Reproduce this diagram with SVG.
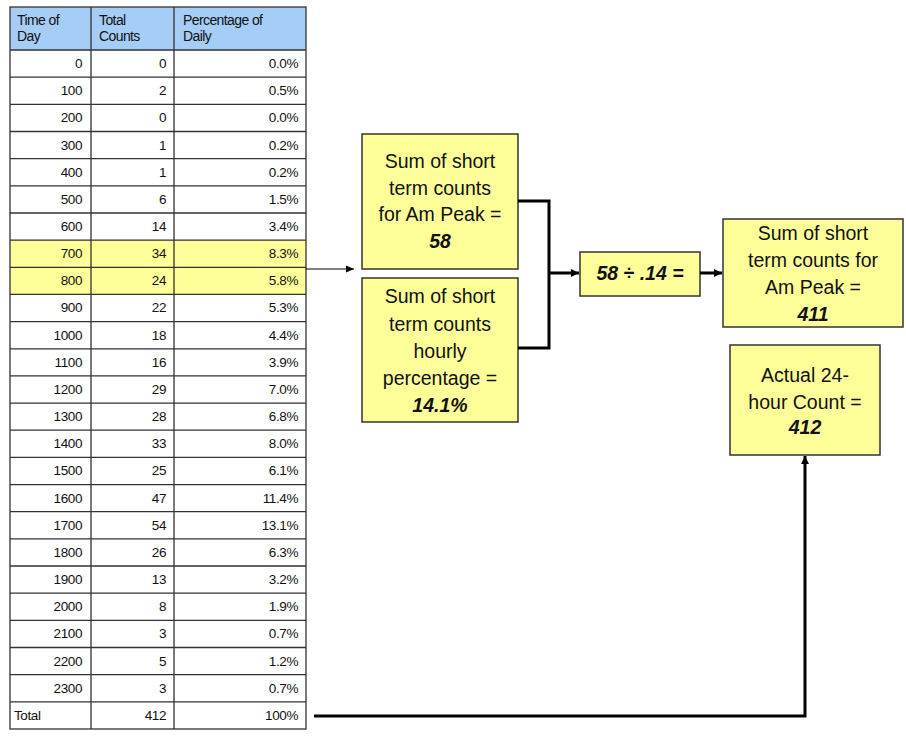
<svg xmlns="http://www.w3.org/2000/svg" width="906" height="740" viewBox="0 0 906 740">
<defs>
<style>
.tt{font-family:"Liberation Sans",Arial,sans-serif;font-size:13.5px;letter-spacing:-0.4px;fill:#111}
.r{text-anchor:end}
.hd{font-family:"Liberation Sans",Arial,sans-serif;font-size:14px;letter-spacing:-0.6px;fill:#111}
.grid{stroke:#333;stroke-width:1.3;fill:none}
.box{fill:#ffff99;stroke:#333;stroke-width:1.5}
.bt{font-family:"Liberation Sans",Arial,sans-serif;font-size:19.5px;fill:#111;text-anchor:middle}
.bi{font-weight:bold;font-style:italic}
.thick{stroke:#000;stroke-width:3;fill:none}
.thin{stroke:#000;stroke-width:1;fill:none}
</style>
<marker id="ah" markerUnits="userSpaceOnUse" markerWidth="10" markerHeight="10" refX="9" refY="5" orient="auto"><path d="M1,1 L9,5 L1,9 Z" fill="#000"/></marker>
<marker id="ahs" markerUnits="userSpaceOnUse" markerWidth="10" markerHeight="8" refX="9" refY="4" orient="auto"><path d="M1,0.5 L9,4 L1,7.5 Z" fill="#000"/></marker>
</defs>
<rect width="906" height="740" fill="#fff"/>
<g id="table">
<rect x="10" y="7" width="296" height="43" fill="#a6cdf6"/>
<rect x="10" y="240.1" width="296" height="54.3" fill="#ffff99"/>
<rect x="10" y="7" width="296" height="722" class="grid"/>
<path class="grid" d="M91,7V729 M174,7V729 M10,50H306 M10,77.2H306 M10,104.3H306 M10,131.5H306 M10,158.6H306 M10,185.8H306 M10,213H306 M10,240.1H306 M10,267.3H306 M10,294.4H306 M10,321.6H306 M10,348.8H306 M10,375.9H306 M10,403.1H306 M10,430.2H306 M10,457.4H306 M10,484.6H306 M10,511.7H306 M10,538.9H306 M10,566H306 M10,593.2H306 M10,620.4H306 M10,647.5H306 M10,674.7H306 M10,701.8H306"/>
<text class="hd" x="17" y="25">Time of</text><text class="hd" x="17" y="41">Day</text>
<text class="hd" x="99" y="25">Total</text><text class="hd" x="99" y="41">Counts</text>
<text class="hd" x="183" y="25">Percentage of</text><text class="hd" x="183" y="41">Daily</text>
<g class="tt r">
<text x="82" y="68">0</text><text x="166" y="68">0</text><text x="298" y="68">0.0%</text>
<text x="82" y="95.2">100</text><text x="166" y="95.2">2</text><text x="298" y="95.2">0.5%</text>
<text x="82" y="122.3">200</text><text x="166" y="122.3">0</text><text x="298" y="122.3">0.0%</text>
<text x="82" y="149.5">300</text><text x="166" y="149.5">1</text><text x="298" y="149.5">0.2%</text>
<text x="82" y="176.6">400</text><text x="166" y="176.6">1</text><text x="298" y="176.6">0.2%</text>
<text x="82" y="203.8">500</text><text x="166" y="203.8">6</text><text x="298" y="203.8">1.5%</text>
<text x="82" y="231">600</text><text x="166" y="231">14</text><text x="298" y="231">3.4%</text>
<text x="82" y="258.1">700</text><text x="166" y="258.1">34</text><text x="298" y="258.1">8.3%</text>
<text x="82" y="285.3">800</text><text x="166" y="285.3">24</text><text x="298" y="285.3">5.8%</text>
<text x="82" y="312.4">900</text><text x="166" y="312.4">22</text><text x="298" y="312.4">5.3%</text>
<text x="82" y="339.6">1000</text><text x="166" y="339.6">18</text><text x="298" y="339.6">4.4%</text>
<text x="82" y="366.8">1100</text><text x="166" y="366.8">16</text><text x="298" y="366.8">3.9%</text>
<text x="82" y="393.9">1200</text><text x="166" y="393.9">29</text><text x="298" y="393.9">7.0%</text>
<text x="82" y="421.1">1300</text><text x="166" y="421.1">28</text><text x="298" y="421.1">6.8%</text>
<text x="82" y="448.2">1400</text><text x="166" y="448.2">33</text><text x="298" y="448.2">8.0%</text>
<text x="82" y="475.4">1500</text><text x="166" y="475.4">25</text><text x="298" y="475.4">6.1%</text>
<text x="82" y="502.6">1600</text><text x="166" y="502.6">47</text><text x="298" y="502.6">11.4%</text>
<text x="82" y="529.7">1700</text><text x="166" y="529.7">54</text><text x="298" y="529.7">13.1%</text>
<text x="82" y="556.9">1800</text><text x="166" y="556.9">26</text><text x="298" y="556.9">6.3%</text>
<text x="82" y="584">1900</text><text x="166" y="584">13</text><text x="298" y="584">3.2%</text>
<text x="82" y="611.2">2000</text><text x="166" y="611.2">8</text><text x="298" y="611.2">1.9%</text>
<text x="82" y="638.4">2100</text><text x="166" y="638.4">3</text><text x="298" y="638.4">0.7%</text>
<text x="82" y="665.5">2200</text><text x="166" y="665.5">5</text><text x="298" y="665.5">1.2%</text>
<text x="82" y="692.7">2300</text><text x="166" y="692.7">3</text><text x="298" y="692.7">0.7%</text>
<text x="166" y="719.8">412</text><text x="298" y="719.8">100%</text>
</g>
<text class="tt" x="14" y="719.8">Total</text>
</g>
<g id="box-am-peak">
<rect class="box" x="362" y="134" width="156" height="135"/>
<text class="bt" x="440" y="168">Sum of short</text>
<text class="bt" x="440" y="195">term counts</text>
<text class="bt" x="440" y="221">for Am Peak =</text>
<text class="bt bi" x="440" y="248">58</text>
</g>
<g id="box-percentage">
<rect class="box" x="362" y="278" width="156" height="144"/>
<text class="bt" x="440" y="303">Sum of short</text>
<text class="bt" x="440" y="331">term counts</text>
<text class="bt" x="440" y="358">hourly</text>
<text class="bt" x="440" y="385">percentage =</text>
<text class="bt bi" x="440" y="412">14.1%</text>
</g>
<g id="box-division">
<rect class="box" x="580" y="252" width="120" height="44"/>
<text class="bt bi" x="640" y="280">58 ÷ .14 =</text>
</g>
<g id="box-result">
<rect class="box" x="723" y="219" width="180" height="108"/>
<text class="bt" x="813" y="240">Sum of short</text>
<text class="bt" x="813" y="267">term counts for</text>
<text class="bt" x="813" y="294">Am Peak =</text>
<text class="bt bi" x="813" y="321">411</text>
</g>
<g id="box-actual">
<rect class="box" x="730" y="345" width="150" height="110"/>
<text class="bt" x="805" y="382">Actual 24-</text>
<text class="bt" x="805" y="409">hour Count =</text>
<text class="bt bi" x="805" y="434">412</text>
</g>
<g id="connectors">
<line class="thin" x1="306" y1="269" x2="354" y2="269" marker-end="url(#ahs)"/>
<path class="thick" d="M518,201 H549 V348 H518"/>
<line class="thick" x1="549" y1="273" x2="579" y2="273" marker-end="url(#ah)"/>
<line class="thick" x1="700" y1="273" x2="722" y2="273" marker-end="url(#ah)"/>
<path class="thick" d="M314,716 H805 V456" marker-end="url(#ah)"/>
</g>
</svg>
